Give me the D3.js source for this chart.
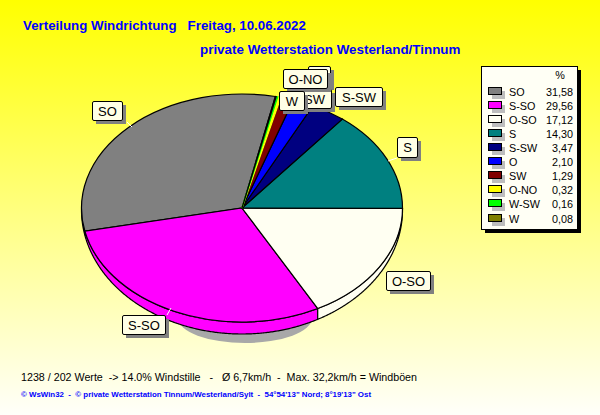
<!DOCTYPE html>
<html><head><meta charset="utf-8">
<script src="https://cdn.jsdelivr.net/npm/d3@7"></script>
<style>html,body{margin:0;padding:0;background:#fff}svg{display:block}text{white-space:pre;font-family:"Liberation Sans",Arial,sans-serif}</style>
</head><body><div id="c"></div>
<script>
const categories=["SO","S-SO","O-SO","S","S-SW","O","SW","O-NO","W-SW","W"];
const values=[31.58,29.56,17.12,14.30,3.47,2.10,1.29,0.32,0.16,0.08];
const valueLabels=["31,58","29,56","17,12","14,30","3,47","2,10","1,29","0,32","0,16","0,08"];
const colors=["#808080","#FF00FF","#FFFFF2","#008080","#000080","#0000FF","#800000","#FFFF00","#00FF00","#808000"];
const titleText="Verteilung Windrichtung   Freitag, 10.06.2022";
const subtitleText="private Wetterstation Westerland/Tinnum";
const footerText="1238 / 202 Werte  -> 14.0% Windstille   -   Ø 6,7km/h  -  Max. 32,2km/h = Windböen";
const creditText="© WsWin32  -  © private Wetterstation Tinnum/Westerland/Sylt  -  54°54'13\" Nord; 8°19'13\" Ost";

const W=600,H=415,cx=242,cy=208,rx=160.5,ry=114;
const svg=d3.select("#c").append("svg").attr("width",W).attr("height",H);
const defs=svg.append("defs");
const g=defs.append("linearGradient").attr("id","bg").attr("x1",0).attr("y1",0).attr("x2",0).attr("y2",1);
g.append("stop").attr("offset",0).attr("stop-color","#FFFF00");
g.append("stop").attr("offset",1).attr("stop-color","#FFFFFA");
svg.append("rect").attr("width",W).attr("height",H).attr("fill","url(#bg)");

const t=(s,x,y,o={})=>svg.append("text").attr("x",x).attr("y",y).attr("font-size",o.size||11)
  .attr("font-weight",o.weight||"normal").attr("fill",o.fill||"#000").attr("text-anchor",o.anchor||"start")
  .style("font-family",o.family||null).text(s);

t(titleText,23,30,{size:13.3,weight:"bold",fill:"#0000FF"});
t(subtitleText,200,54,{size:13.4,weight:"bold",fill:"#0000FF"});
t(footerText,21,381,{size:10.7});
t(creditText,21,397,{size:8,weight:"bold",fill:"#0000FF"}).attr("textLength",350).attr("lengthAdjust","spacingAndGlyphs");

// pie
const startDeg=12;
const pie=d3.pie().sort(null).value(d=>d).startAngle(startDeg*Math.PI/180).endAngle((startDeg-360)*Math.PI/180);
const arcs=pie(values);
const px=a=>cx+rx*Math.sin(a), py=a=>cy-ry*Math.cos(a);

// soft shadow below the rim
svg.append("ellipse").attr("cx",245).attr("cy",318).attr("rx",67).attr("ry",25).attr("fill","#A8A8A8");

// rim: lower half of the ellipse, thin at the sides, thickest at the front
const lineGen=d3.line().x(d=>d[0]).y(d=>d[1]);
const rimDrop=a=>2+10*Math.abs(Math.cos(a));
arcs.forEach((a,i)=>{
  const pts=d3.range(0,241).map(k=>a.startAngle+(a.endAngle-a.startAngle)*k/240).filter(an=>Math.cos(an)<0);
  if(pts.length<2)return;
  const top=pts.map(an=>[px(an),py(an)]);
  const bot=pts.slice().reverse().map(an=>[px(an),py(an)+rimDrop(an)]);
  svg.append("path").attr("d",lineGen(top.concat(bot))+"Z").attr("fill",colors[i]).attr("stroke","#000").attr("stroke-width",1.2);
});

// top face: the sliver slices keep their own colour as outline, else the black would hide them
const arc=d3.arc().innerRadius(0).outerRadius(1);
const face=svg.append("g").attr("transform",`translate(${cx},${cy}) scale(${rx},${ry})`);
face.selectAll("path").data(arcs).join("path").attr("d",arc)
  .attr("fill",(d,i)=>colors[i]).attr("stroke",(d,i)=>d.value<0.5&&d.value>0.1?colors[i]:"#000").attr("stroke-width",1.2)
  .attr("vector-effect","non-scaling-stroke");

// callouts, drawn in the order of the reference so they overlap alike
const callouts=[
 {c:"SO",x:92,y:101,w:30,h:19,lead:[[127,122],[132,127]]},
 {c:"S-SO",x:122,y:315,w:43,h:19,lead:[[167,315],[171,308]]},
 {c:"O-SO",x:386,y:271,w:44,h:19},
 {c:"S",x:397,y:137,w:20,h:20,lead:[[388,161],[397,158]]},
 {c:"S-SW",x:335,y:87,w:47,h:19},
 {c:"O",x:308,y:66,w:22,h:20,tx:327,ty:81,size:9},
 {c:"SW",x:297,y:89,w:34,h:19},
 {c:"O-NO",x:283,y:69,w:44,h:19},
 {c:"W",x:279,y:91,w:25,h:19}
];
callouts.forEach(b=>{
  if(b.lead)svg.append("line").attr("x1",b.lead[0][0]).attr("y1",b.lead[0][1]).attr("x2",b.lead[1][0]).attr("y2",b.lead[1][1]).attr("stroke","#fff");
  svg.append("rect").attr("x",b.x+4).attr("y",b.y+4).attr("width",b.w).attr("height",b.h).attr("fill","#808080").attr("shape-rendering","crispEdges");
  svg.append("rect").attr("x",b.x+.5).attr("y",b.y+.5).attr("width",b.w).attr("height",b.h).attr("rx",1.5).attr("fill","#FFFFE6").attr("stroke","#000");
  t(b.c,b.tx||b.x+b.w/2+.5,b.ty||b.y+b.h/2+5,{size:b.size||13,anchor:"middle"});
});

// legend
const lx=481.5,ly=66.5,lw=96,lh=163;
svg.append("rect").attr("x",lx+3.5).attr("y",ly+3.5).attr("width",lw).attr("height",lh).attr("fill","#000");
svg.append("rect").attr("x",lx).attr("y",ly).attr("width",lw).attr("height",lh).attr("fill","#FFFFF5").attr("stroke","#000");
t("%",560,79,{size:10.8,anchor:"middle"});
const rowY=d3.scaleLinear().domain([0,9]).range([92,218.5]);
categories.forEach((c,i)=>{
  const y=rowY(i);
  svg.append("rect").attr("x",492).attr("y",y-1).attr("width",13).attr("height",8).attr("fill","#BDBDBD").attr("shape-rendering","crispEdges");
  svg.append("rect").attr("x",488.5).attr("y",y-4.5).attr("width",13).attr("height",7).attr("fill",colors[i]).attr("stroke","#000").attr("shape-rendering","crispEdges");
  t(c,509,y+4,{size:10.8});
  t(valueLabels[i],573,y+4,{size:10.8,anchor:"end"});
});
</script></body></html>
